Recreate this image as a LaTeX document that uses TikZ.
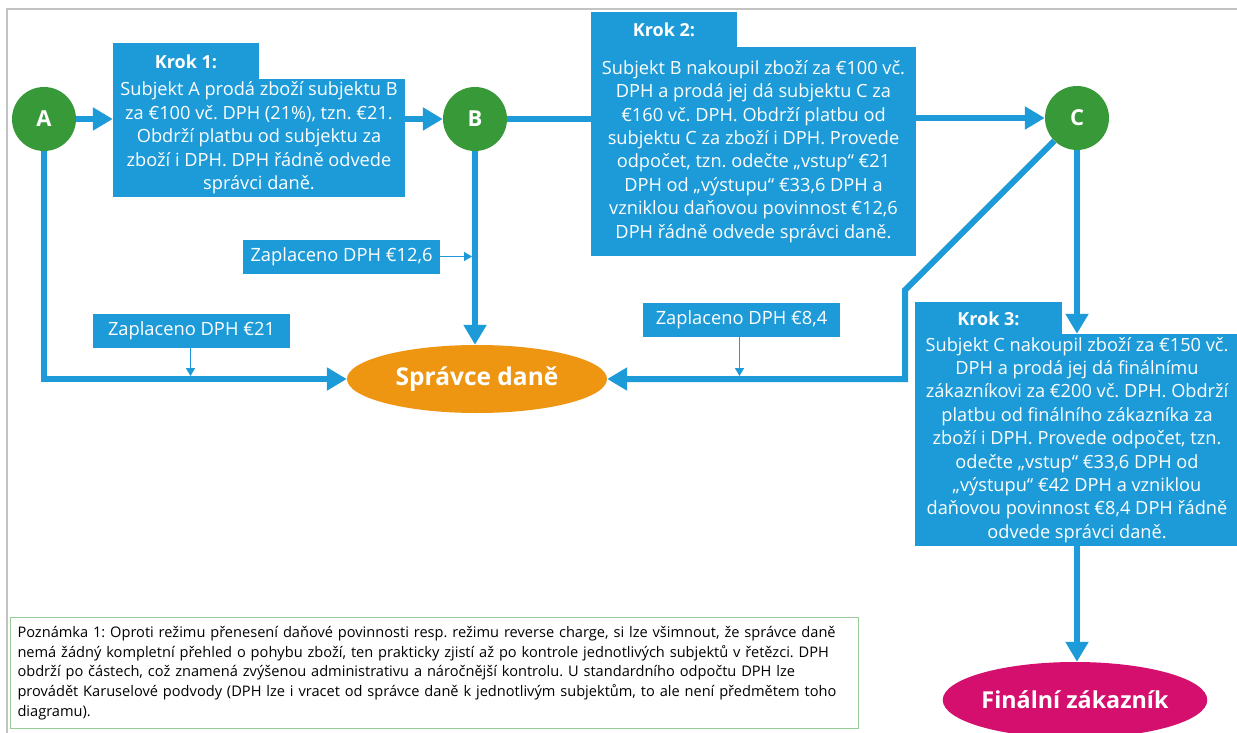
\documentclass[tikz,border=0pt]{standalone}
\usepackage{fontspec}
\usepackage{graphicx}
\setmainfont{Open Sans}
\usetikzlibrary{arrows.meta,shapes.geometric,calc}
\definecolor{vblue}{RGB}{29,155,216}
\definecolor{vgreen}{RGB}{55,153,55}
\definecolor{vorange}{RGB}{238,149,17}
\definecolor{vmagenta}{RGB}{212,15,109}
\definecolor{notegreen}{RGB}{150,205,150}
\definecolor{framegray}{RGB}{195,195,195}
\tikzset{
  bluebox/.style={fill=vblue, text=white, inner sep=0pt, rectangle},
  bodytext/.style={font=\fontsize{18.2}{23.4}\selectfont, align=center},
  tabtext/.style={font=\bfseries\fontsize{18}{22}\selectfont},
  paidbox/.style={bluebox, minimum width=197pt, minimum height=34pt, font=\fontsize{18.3}{21}\selectfont},
  subj/.style={circle, fill=vgreen, text=white, minimum size=64pt, inner sep=0pt, font=\bfseries\fontsize{22}{26}\selectfont},
  flowline/.style={draw=vblue, line width=6pt},
  flow/.style={flowline, -{Triangle[length=20pt,width=22pt]}},
  thinflow/.style={draw=vblue, line width=1.6pt, -{Triangle[length=8pt,width=9pt]}},
  oval/.style={ellipse, text=white, inner sep=0pt},
}
\frenchspacing
\begin{document}
\begin{tikzpicture}[x=1pt,y=-1pt]
\useasboundingbox (0,0) rectangle (1237,733);
\fill[white] (0,0) rectangle (1237,733);
% frame
\draw[framegray, line width=2pt] (7,733) -- (7,9) -- (1237,9);

% subjects
\node[subj] (A) at (44,119) {A};
\node[subj] (B) at (475,119) {B};
\node[subj] (C) at (1077,118) {C};

% Krok 1
\node[bluebox, minimum width=146pt, minimum height=37pt, tabtext] (k1tab) at (186,61.5) {Krok 1:};
\node[bluebox, minimum width=292pt, minimum height=118pt, bodytext] (k1) at (259,138) {Subjekt A prodá zboží subjektu B\\za €100 vč. DPH (21\%), tzn. €21.\\Obdrží platbu od subjektu za\\zboží i DPH. DPH řádně odvede\\správci daně.};

% Krok 2
\node[bluebox, minimum width=146pt, minimum height=36pt, tabtext] (k2tab) at (664,30) {Krok 2:};
\node[bluebox, minimum width=325pt, minimum height=209pt, bodytext] (k2) at (753.5,151.5) {Subjekt B nakoupil zboží za €100 vč.\\DPH a prodá jej dá subjektu C za\\€160 vč. DPH. Obdrží platbu od\\subjektu C za zboží i DPH. Provede\\odpočet, tzn. odečte „vstup“ €21\\DPH od „výstupu“ €33,6 DPH a\\vzniklou daňovou povinnost €12,6\\DPH řádně odvede správci daně.};

% Krok 3
\node[bluebox, minimum width=147pt, minimum height=33pt, tabtext] (k3tab) at (988.5,318.5) {Krok 3:};
\node[bluebox, minimum width=324pt, minimum height=212pt, bodytext] (k3) at (1077,440) {Subjekt C nakoupil zboží za €150 vč.\\DPH a prodá jej dá finálnímu\\zákazníkovi za €200 vč. DPH. Obdrží\\platbu od finálního zákazníka za\\zboží i DPH. Provede odpočet, tzn.\\odečte „vstup“ €33,6 DPH od\\„výstupu“ €42 DPH a vzniklou\\daňovou povinnost €8,4 DPH řádně\\odvede správci daně.};

% paid boxes
\node[paidbox] (z126) at (341.5,256.5) {Zaplaceno DPH €12,6};
\node[paidbox] (z21) at (191.5,330.5) {Zaplaceno DPH €21};
\node[paidbox] (z84) at (741.5,319.5) {Zaplaceno DPH €8,4};

% ovals
\node[oval, fill=vorange, minimum width=260pt, minimum height=68pt, font=\bfseries\fontsize{24.5}{28}\selectfont] (sd) at (477,379) {Správce daně};
\node[oval, fill=vmagenta, minimum width=256pt, minimum height=76pt, font=\bfseries\fontsize{23.3}{27}\selectfont] (fz) at (1075,700) {Finální zákazník};

% main flow
\draw[flow] (A.east) -- (A.east -| k1.west);
\draw[flow] (k1.east |- B.west) -- (B.west);
\draw[flowline] (B.east) -- (B.east -| k2.west);
\draw[flow] (k2.east |- C.west) -- (C.west);
\draw[flow] (B.south) -- (B.south |- sd.north);
\draw[flow] (A.south) |- (sd.west);
\coordinate (cb) at (905,290);
\draw[flow] (C.south west) -- (cb) |- (sd.east);
\draw[flow] (C.south) -- (C.south |- k3.north);
\draw[flow] (k3.south) -- (k3.south |- fz.north);

% paid arrows
\coordinate (j126) at (472,256.5);
\coordinate (j21) at (190.5,376);
\coordinate (j84) at (739.5,376);
\draw[thinflow] (z126.east) -- (j126);
\draw[thinflow] (z21.south -| j21) -- (j21);
\draw[thinflow] (z84.south -| j84) -- (j84);

% note
\node[draw=notegreen, line width=1pt, anchor=north west, minimum width=848pt, minimum height=111pt, inner xsep=7pt, inner ysep=6pt, text width=834pt, align=left, font=\fontsize{14.6}{19.8}\selectfont] (note) at (10,617) {Poznámka 1: Oproti režimu přenesení daňové povinnosti resp. režimu reverse charge, si lze všimnout, že správce daně\\nemá žádný kompletní přehled o pohybu zboží, ten prakticky zjistí až po kontrole jednotlivých subjektů v řetězci. DPH\\obdrží po částech, což znamená zvýšenou administrativu a náročnější kontrolu. U standardního odpočtu DPH lze\\provádět Karuselové podvody (DPH lze i vracet od správce daně k jednotlivým subjektům, to ale není předmětem toho\\diagramu).};
\end{tikzpicture}
\end{document}
